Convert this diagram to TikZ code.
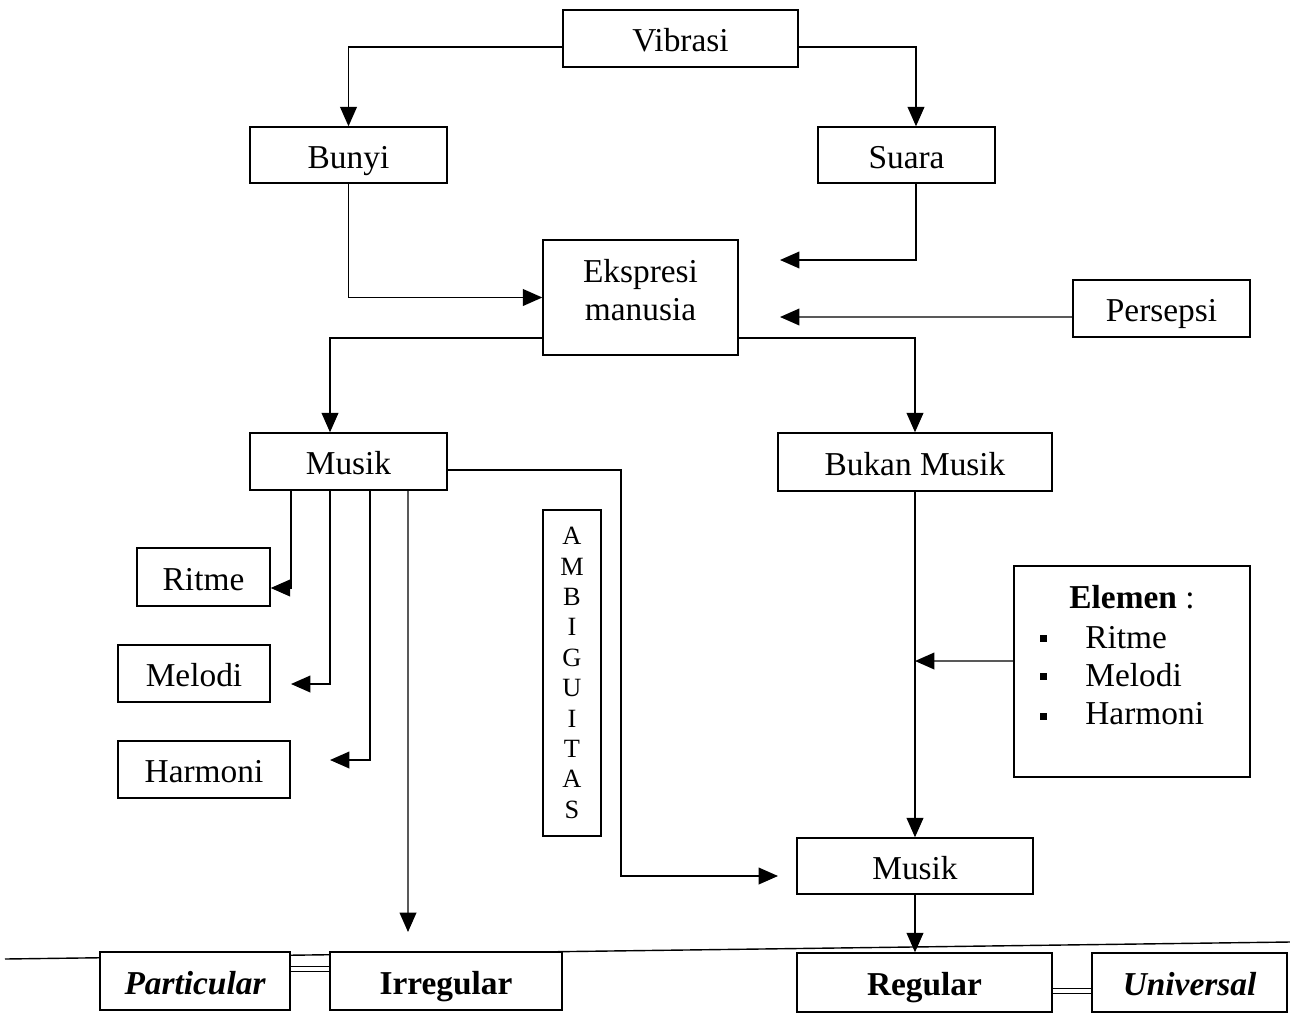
\documentclass[tikz,border=0pt]{standalone}
\usepackage{fontspec}
\setmainfont{Liberation Serif}
\usetikzlibrary{arrows.meta,calc}
\newcommand\mainsize{\fontsize{19}{21.5}\selectfont}
% \bx{name}{x1}{y1}{x2}{y2}{options}{text}: a box spanning two corners
\newcommand\bx[7]{%
  \node[box, #6, minimum width={(#4-#2)*0.02cm}, minimum height={(#5-#3)*0.02cm}]
    (#1) at ({(#2+#4)/2},{(#3+#5)/2}) {#7};}
\begin{document}
\begin{tikzpicture}[x=0.02cm,y=-0.02cm,
  box/.style={draw, line width=0.8pt, fill=white, inner sep=0pt, font=\mainsize,
    text height=16pt, text depth=1pt},
  free/.style={text height={}, text depth={}},
  conn/.style={line width=0.8pt},
  arr/.style={conn, -{Triangle[length=11pt,width=9.5pt]}},
  link/.style={double, double distance=2.2pt, line width=0.6pt},
  txt/.style={inner sep=0pt, font=\mainsize},
  bullet/.style={fill, inner sep=0pt, minimum size=0.14cm}]
\useasboundingbox (0,0) rectangle (1290,1024);

% divider line under the diagram
\draw[conn] (5,959) -- (1290,942);

% boxes
\bx{vib}{563}{10}{798}{67}{}{Vibrasi}
\bx{bun}{250}{127}{447}{183}{}{Bunyi}
\bx{sua}{818}{127}{995}{183}{}{Suara}
\bx{eks}{543}{240}{738}{355}{}{}
\bx{per}{1073}{280}{1250}{337}{}{Persepsi}
\bx{mus}{250}{433}{447}{490}{}{Musik}
\bx{bm}{778}{433}{1052}{491}{}{Bukan Musik}
\bx{rit}{137}{548}{270}{606}{}{Ritme}
\bx{mel}{118}{645}{270}{702}{}{Melodi}
\bx{har}{118}{741}{290}{798}{}{Harmoni}
\bx{amb}{543}{510}{601}{836}{free, align=center, font=\fontsize{15}{17.3}\selectfont}
  {A\\M\\B\\I\\G\\U\\I\\T\\A\\S}
\bx{ele}{1014}{566}{1250}{777}{}{}
\bx{m2}{797}{838}{1033}{894}{}{Musik}
\bx{par}{100}{952}{290}{1010}{font=\mainsize\bfseries\itshape}{Particular}
\bx{irr}{330}{952}{562}{1010}{font=\mainsize\bfseries}{Irregular}
\bx{reg}{797}{953}{1052}{1012}{font=\mainsize\bfseries}{Regular}
\bx{uni}{1092}{953}{1287}{1012}{font=\mainsize\bfseries\itshape}{Universal}

% two-line label of the expression box
\node[txt, align=center] (eksT) at (640.5,290) {Ekspresi\\manusia};

% contents of the element box
\node[txt, anchor=base] (eleT) at (1132,608) {\textbf{Elemen} :};
\node[txt, anchor=base west] (eleR) at (1085,648) {Ritme};
\node[txt, anchor=base west] (eleM) at (1085,686) {Melodi};
\node[txt, anchor=base west] (eleH) at (1085,724) {Harmoni};
\node[bullet] (b1) at (1043,638) {};
\node[bullet] (b2) at (1043,676) {};
\node[bullet] (b3) at (1043,716) {};

% free arrow ends
\coordinate (eA) at (780,260);
\coordinate (eB) at (780,317);
\coordinate (melA) at (291,684);
\coordinate (harA) at (330,760);
\coordinate (irrA) at (408,932);
\coordinate (bend) at (621,876);
\coordinate (m2A) at (778,876);
\coordinate (eleA) at (915,661);

% connectors
\draw[arr] ([yshift=-0.17cm]vib.west) -| (bun.north);
\draw[arr] ([yshift=-0.17cm]vib.east) -| ([xshift=0.19cm]sua.north);
\draw[arr] (bun.south) |- (eks.west);
\draw[arr] ([xshift=0.19cm]sua.south) |- (eA);
\draw[arr] ([yshift=-0.17cm]per.west) -- (eB);
\draw[arr] ([yshift=-0.81cm]eks.west) -| ([xshift=-0.37cm]mus.north);
\draw[arr] ([yshift=-0.81cm]eks.east) -| (bm.north);
\draw[arr] ([xshift=-1.15cm]mus.south) |- ([yshift=-0.22cm]rit.east);
\draw[arr] ([xshift=-0.37cm]mus.south) |- (melA);
\draw[arr] ([xshift=0.43cm]mus.south) |- (harA);
\draw[arr] ([xshift=1.19cm]mus.south) -- (irrA);
\draw[arr] ([yshift=-0.17cm]mus.east) -| (bend) -- (m2A);
\draw[arr] (bm.south) -- (m2.north);
\draw[arr] ([yshift=0.21cm]ele.west) -- (eleA);
\draw[arr] (m2.south) -- (m2.south |- reg.north);

% double links at the bottom
\draw[link] ([yshift=0.24cm]par.east) -- ([yshift=0.24cm]irr.west);
\draw[link] ([yshift=-0.17cm]reg.east) -- ([yshift=-0.17cm]uni.west);
\end{tikzpicture}
\end{document}
